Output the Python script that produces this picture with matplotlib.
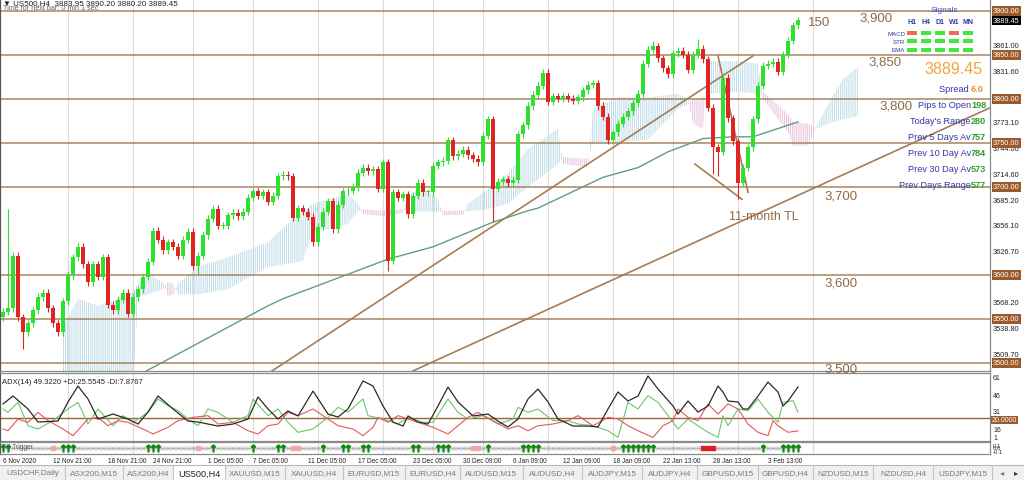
import matplotlib
matplotlib.use("Agg")
import matplotlib.pyplot as plt
from matplotlib.patches import Rectangle
from matplotlib.lines import Line2D
import numpy as np

plt.rcParams["font.family"] = ["Liberation Sans", "DejaVu Sans"]
plt.rcParams["hatch.linewidth"] = 0.7

W, H = 1024, 481

# ---- US500 H4 candles (closes, one per candle) ----
first_open = 3552
closes = [
    3558, 3562, 3622, 3552, 3535, 3545, 3560, 3575, 3580, 3562,
    3545, 3535, 3570, 3600, 3620, 3632, 3612, 3592, 3612, 3598,
    3620, 3566, 3560, 3572, 3580, 3556, 3575, 3584, 3598, 3615,
    3650, 3640, 3628, 3637, 3632, 3622, 3640, 3649, 3610, 3622,
    3645, 3664, 3675, 3656, 3656, 3668, 3671, 3667, 3672, 3688,
    3695, 3690, 3694, 3683, 3690, 3712, 3714, 3712, 3665, 3676,
    3672, 3666, 3637, 3655, 3672, 3684, 3652, 3680, 3695, 3696,
    3700, 3716, 3722, 3718, 3720, 3698, 3728, 3616, 3694, 3688,
    3692, 3669, 3690, 3705, 3694, 3694, 3724, 3728, 3730, 3753,
    3735, 3738, 3742, 3736, 3732, 3728, 3758, 3777, 3698, 3706,
    3709, 3704, 3708, 3760, 3770, 3792, 3805, 3815, 3830, 3797,
    3803, 3800, 3803, 3800, 3798, 3802, 3810, 3816, 3818, 3792,
    3780, 3753, 3762, 3772, 3780, 3786, 3795, 3806, 3840, 3856,
    3860, 3846, 3835, 3828, 3852, 3855, 3850, 3833, 3850, 3857,
    3845, 3790, 3745, 3740, 3824, 3778, 3752, 3705, 3722, 3745,
    3777, 3815, 3838, 3840, 3842, 3831, 3850, 3866, 3884, 3889.45,
]
wick_high = {1: 3675, 130: 3866, 139: 3868}
wick_low = {4: 3516, 39: 3600, 77: 3604, 98: 3660, 142: 3715, 143: 3712, 147: 3686}

# 200-period moving average
ma_idx = [27, 30, 53, 56, 77, 86, 98, 105, 107, 120, 127, 133, 140, 146, 150, 159]
ma_val = [3486, 3495, 3565, 3573, 3618, 3632, 3660, 3673, 3676, 3711, 3722, 3740, 3755, 3757, 3757, 3774]

# Ichimoku cloud
cloud_idx = [12, 15, 19, 23, 26, 27, 29, 32, 33, 34, 35, 39, 45, 53, 56, 60, 62, 65, 69, 71,
             72, 76, 80, 81, 84, 87, 88, 92, 93, 97, 101, 105, 111, 112, 117, 118, 123, 129, 135, 137,
             138, 140, 141, 147, 151, 152, 157, 158, 161, 163, 165, 168, 171]
span_a = [3542, 3573, 3565, 3573, 3581, 3590, 3601, 3592, 3576, 3578, 3590, 3610, 3620, 3637, 3654, 3672, 3681, 3686, 3692, 3681,
          3669, 3667, 3670, 3692, 3698, 3686, 3668, 3668, 3681, 3698, 3715, 3743, 3766, 3726, 3723, 3789, 3802, 3802, 3806, 3800,
          3772, 3766, 3843, 3843, 3840, 3800, 3762, 3747, 3747, 3772, 3794, 3823, 3836]
span_b = [3470, 3470, 3470, 3470, 3470, 3576, 3578, 3584, 3592, 3590, 3578, 3578, 3584, 3609, 3612, 3616, 3650, 3652, 3658, 3673,
          3675, 3673, 3675, 3672, 3672, 3672, 3673, 3673, 3672, 3675, 3681, 3700, 3726, 3734, 3732, 3751, 3751, 3754, 3789, 3794,
          3800, 3802, 3806, 3808, 3806, 3808, 3783, 3774, 3772, 3766, 3772, 3777, 3780]

# horizontal levels and their chart labels
levels = [3900, 3850, 3800, 3750, 3700, 3600, 3550, 3500]
level_text = ["3,900", "3,850", "3,800", "3,700", "3,600", "3,500"]
level_text_pos = [(174.6, 3893), (176.4, 3843), (178.6, 3793), (167.6, 3690), (167.6, 3591), (167.6, 3494)]

# trend lines (bar index, price)
trend_lines = [
    [(53.8, 3491), (150, 3849)],     # rising support
    [(82, 3491), (197.4, 3790)],     # 11-month TL
    [(143, 3849), (149, 3694)],      # wedge top
    [(138.4, 3726), (147.8, 3686)],  # wedge bottom
]

# ADX(14)
adx_idx = [0, 2, 5, 7, 11, 13, 15, 17, 19, 22, 25, 27, 29, 31, 34, 37, 39, 43, 46, 49,
           51, 53, 55, 57, 59, 62, 65, 67, 69, 72, 74, 76, 78, 80, 81, 83, 85, 87, 89, 91,
           94, 97, 99, 101, 103, 105, 107, 109, 111, 114, 117, 119, 121, 123, 125, 127, 129, 131, 134, 135,
           137, 139, 141, 143, 144, 145, 147, 148, 149, 151, 153, 155, 156, 157, 159]
adx_val = [33.3, 40.8, 28.6, 16.3, 17.2, 35.2, 50.2, 38.0, 19.1, 23.8, 19.1, 14.4, 25.7, 40.8, 28.6, 17.2, 16.3, 12.5, 14.4, 19.1,
           39.9, 28.6, 19.1, 26.7, 22.0, 45.5, 23.8, 21.0, 28.6, 55.0, 50.2, 31.4, 16.3, 12.5, 22.0, 16.3, 14.4, 31.4, 49.3, 35.2,
           22.0, 23.8, 17.2, 11.6, 19.1, 38.0, 47.4, 35.2, 19.1, 12.5, 12.5, 11.6, 28.6, 44.6, 36.1, 40.8, 59.7, 47.4, 31.4, 23.8,
           36.1, 25.7, 31.4, 50.2, 44.6, 36.1, 35.2, 28.6, 28.6, 40.8, 54.0, 44.6, 31.4, 36.1, 49.3]
pdi_idx = [0, 1, 3, 5, 7, 10, 13, 15, 17, 19, 22, 24, 26, 29, 31, 33, 35, 37, 39, 41,
           43, 46, 49, 50, 53, 55, 57, 59, 62, 65, 67, 69, 72, 73, 76, 79, 81, 84, 86, 89,
           91, 93, 96, 99, 102, 103, 105, 107, 110, 113, 115, 118, 121, 123, 125, 127, 129, 131, 133, 135,
           137, 139, 141, 143, 144, 145, 147, 149, 151, 153, 155, 156, 158, 159]
pdi_val = [28.6, 25.4, 34.8, 12.8, 9.7, 17.6, 28.6, 34.8, 14.4, 28.6, 12.8, 22.3, 16.0, 25.4, 38.0, 31.7, 27.0, 19.1, 12.8, 28.6,
           25.4, 16.0, 22.3, 38.0, 22.3, 28.6, 16.0, 6.6, 9.7, 20.7, 30.1, 25.4, 38.0, 22.3, 19.1, 14.4, 20.7, 16.0, 16.0, 38.0,
           25.4, 19.1, 22.3, 14.4, 19.1, 30.1, 25.4, 28.6, 17.6, 17.6, 14.4, 12.8, 8.1, 1.8, 34.8, 28.6, 41.1, 34.8, 22.3, 9.7,
           19.1, 12.8, 6.6, 1.8, 22.3, 12.8, 28.6, 27.0, 38.0, 25.4, 16.0, 34.8, 36.4, 25.6]
mdi_idx = [0, 1, 3, 5, 7, 9, 12, 14, 17, 19, 21, 23, 25, 28, 30, 33, 35, 38, 41, 43,
           46, 49, 51, 53, 55, 57, 59, 62, 65, 67, 70, 72, 74, 75, 77, 79, 82, 84, 86, 89,
           91, 93, 95, 98, 101, 103, 105, 107, 110, 113, 115, 118, 121, 123, 125, 127, 130, 132, 134, 135,
           137, 139, 141, 143, 145, 147, 149, 151, 153, 154, 155, 157, 159]
mdi_val = [9.7, 8.1, 19.1, 16.0, 25.4, 17.6, 9.7, 3.4, 19.1, 20.7, 12.8, 17.6, 16.0, 9.7, 5.0, 11.3, 17.6, 20.7, 22.3, 14.4,
           16.0, 8.1, 5.0, 12.8, 14.4, 25.4, 22.3, 28.6, 19.1, 12.8, 9.7, 3.4, 11.3, 20.7, 16.0, 22.3, 17.6, 14.4, 11.3, 5.0,
           12.8, 20.7, 25.4, 17.6, 9.7, 12.8, 8.1, 12.8, 14.4, 17.6, 22.3, 12.8, 20.7, 19.1, 12.8, 8.1, 1.8, 12.8, 17.6, 28.6,
           20.7, 17.6, 33.3, 23.8, 33.3, 28.6, 14.4, 6.6, 3.4, 17.6, 12.8, 6.6, 7.9]

# FX Trigger signals (candle index)
trig_up = [0, 1, 12, 13, 14, 29, 30, 31, 42, 50, 55, 56, 64, 68, 69, 72, 73, 82, 83, 87, 88, 89, 97,
           104, 105, 106, 107, 124, 125, 126, 127, 128, 129, 130, 152, 156, 157, 158, 159]
trig_weak = [10, 39, 58, 59, 94, 95, 122]
trig_down = [140, 141, 142]

date_idx = [0, 10, 21, 30, 41, 50, 61, 71, 82, 92, 102, 112, 122, 132, 142, 153]
date_labels = ["6 Nov 2020", "12 Nov 21:00", "18 Nov 21:00", "24 Nov 21:00", "1 Dec 05:00",
               "7 Dec 05:00", "11 Dec 05:00", "17 Dec 05:00", "23 Dec 05:00", "30 Dec 09:00",
               "6 Jan 09:00", "12 Jan 09:00", "18 Jan 09:00", "22 Jan 13:00", "28 Jan 13:00",
               "3 Feb 13:00"]
grid_idx = [13, 26, 38, 50, 63, 76, 86, 96, 109, 122, 134, 147, 162]

scale_plain = [3861.00, 3831.60, 3802.50, 3773.10, 3744.00, 3714.60, 3685.20,
               3656.10, 3626.70, 3568.20, 3538.80, 3509.70]
last_price = 3889.45

tabs = ["USDCHF,Daily", "ASX200,M15", "ASX200,H4", "US500,H4", "XAUUSD,M15", "XAUUSD,H4",
        "EURUSD,M15", "EURUSD,H4", "AUDUSD,M15", "AUDUSD,H4", "AUDJPY,M15", "AUDJPY,H4",
        "GBPUSD,M15", "GBPUSD,H4", "NZDUSD,M15", "NZDUSD,H4", "USDJPY,M15"]
tab_edges = [0, 65, 123, 173, 225, 285, 343, 405, 460, 523, 582, 642, 697, 758, 813, 873, 933, 992]

sig_cols = ["H1", "H4", "D1", "W1", "MN"]
sig_rows = ["MACD", "STR", "EMA"]
sig_state = [["dn", "up", "up", "dn", "up"],
             ["up", "up", "up", "up", "up"],
             ["up", "up", "up", "up", "up"]]
info_labels = ["Spread ", "Pips to Open", "Today's Range", "Prev 5 Days Av",
               "Prev 10 Day Av", "Prev 30 Day Av", "Prev Days Range"]
info_values = ["6.0", "198", "280", "757", "784", "573", "577"]

GREEN = "#2fe02f"
RED = "#e02424"
BROWN = "#a8855f"
LBL = "#8c6a48"
BOX = "#9a5a2c"
NAVY = "#3434a8"


def fx(x):
    return x / W


def fy(y):
    return 1 - y / H


fig = plt.figure(figsize=(W / 100, H / 100), dpi=100)
fig.patch.set_facecolor("white")

xlim = (-0.6, 197.4)
ax = fig.add_axes([0, fy(372), fx(990), 372 / H])
ax_adx = fig.add_axes([0, fy(442), fx(990), 68 / H])
ax_fx = fig.add_axes([0, fy(455), fx(990), 12 / H])

for a in (ax, ax_adx, ax_fx):
    a.set_xlim(*xlim)
    a.set_xticks([])
    a.set_yticks([])
    for s in a.spines.values():
        s.set_color("#8a8a8a")
        s.set_linewidth(0.9)
    a.spines["left"].set_color("#555555")
    a.spines["left"].set_linewidth(1.6)
    a.vlines(grid_idx, -1e4, 1e4, color="#dcdcdc", lw=0.8, zorder=0)
ax.spines["top"].set_visible(False)

# ---- main price panel ----
ax.set_ylim(3490.9, 3913.6)

ci = np.array(cloud_idx)
sa = np.array(span_a, float)
sb = np.array(span_b, float)
ax.fill_between(ci, sa, sb, where=sa >= sb, interpolate=True, facecolor="none",
                edgecolor="#bcdbe8", hatch="||||||||", lw=0, zorder=1)
ax.fill_between(ci, sa, sb, where=sa < sb, interpolate=True, facecolor="none",
                edgecolor="#e8bedb", hatch="||||||||", lw=0, zorder=1)

for lv in levels:
    ax.axhline(lv, color=BROWN, lw=1.1, zorder=2)

ax.plot(ma_idx, ma_val, color="#5f9c8c", lw=1.0, zorder=3)

for seg in trend_lines:
    (x0, y0), (x1, y1) = seg
    ax.plot([x0, x1], [y0, y1], color="#a67c55", lw=1.2, zorder=3)

idx = np.arange(len(closes))
c = np.array(closes, float)
o = np.concatenate([[first_open], c[:-1]])
hi = np.maximum(o, c) + 4
lo = np.minimum(o, c) - 4
for k, v in wick_high.items():
    hi[k] = v
for k, v in wick_low.items():
    lo[k] = v
cols = np.where(c >= o, GREEN, RED)
ax.vlines(idx, lo, hi, colors=cols, lw=0.8, zorder=4)
ax.bar(idx, np.maximum(np.abs(c - o), 1.0), width=0.62, bottom=np.minimum(o, c),
       color=cols, zorder=5)

for t, (px, py) in zip(level_text, level_text_pos):
    ax.text(px, py, t, color=LBL, fontsize=9.5, ha="center", va="center", zorder=6)
ax.text(163.2, 3888, "150", color=LBL, fontsize=9.5, ha="center", va="center")
ax.text(152.2, 3667, "11-month TL", color=LBL, fontsize=9, ha="center", va="center")

# price scale
ytr = ax.get_yaxis_transform()
for p in scale_plain:
    ax.text(1.003, p, f"{p:.2f}", transform=ytr, fontsize=5.3, color="#222222",
            ha="left", va="center", clip_on=False)
for lv in levels:
    ax.text(1.003, lv, f"{lv:.2f}", transform=ytr, fontsize=5.3, color="white",
            ha="left", va="center", clip_on=False, zorder=10,
            bbox=dict(boxstyle="square,pad=0.15", fc=BOX, ec="none"))
ax.text(1.003, last_price, f"{last_price:.2f}", transform=ytr, fontsize=5.3, color="white",
        ha="left", va="center", clip_on=False, zorder=11,
        bbox=dict(boxstyle="square,pad=0.15", fc="black", ec="none"))

# ---- ADX panel ----
ax_adx.set_ylim(-1.6, 62.5)
ax_adx.axhline(20, color="#a0603a", lw=1.0, zorder=1)
ax_adx.plot(pdi_idx, pdi_val, color="#6cc66c", lw=0.8, zorder=2)
ax_adx.plot(mdi_idx, mdi_val, color="#e05a5a", lw=0.8, zorder=2)
ax_adx.plot(adx_idx, adx_val, color="#2a2a2a", lw=0.9, zorder=3)
ax_adx.text(0.002, 0.93, "ADX(14) 49.3220 +DI:25.5545 -DI:7.8767", transform=ax_adx.transAxes,
            fontsize=5.5, color="#222222", ha="left", va="top")
for lab, yy in [("61", 379), ("46", 396), ("31", 412), ("16", 430), ("1", 438)]:
    fig.text(fx(993), fy(yy), lab, fontsize=5.0, color="#222222", ha="left", va="center")
fig.text(fx(992), fy(421), "20.0000", fontsize=5.0, color="white", ha="left", va="center",
         zorder=5, bbox=dict(boxstyle="square,pad=0.12", fc=BOX, ec="none"))

# ---- FX Trigger panel ----
ax_fx.set_ylim(-1, 1)
ax_fx.plot(idx, np.zeros(len(idx)), color="#b0b0b0", lw=0.6, marker="x", ms=2.6,
           mew=0.6, zorder=1)
ax_fx.plot(trig_up, np.zeros(len(trig_up)), ls="none", marker=r"$\uparrow$", ms=5,
           color="#138a13", zorder=3)
ax_fx.plot(trig_weak, np.zeros(len(trig_weak)), ls="none", marker="s", ms=3,
           color="#f2a6a6", zorder=3)
ax_fx.plot(trig_down, np.zeros(len(trig_down)), ls="none", marker="s", ms=3.5,
           color="#e01c1c", zorder=3)
ax_fx.text(0.002, 0.9, "FX Trigger", transform=ax_fx.transAxes, fontsize=4.8,
           color="#555555", ha="left", va="top")
for lab, yy in [("0.1", 446), ("0.0", 449), ("-0.1", 452)]:
    fig.text(fx(993), fy(yy), lab, fontsize=4.3, color="#333333", ha="left", va="center")

ax_fx.set_xticks(date_idx)
ax_fx.set_xticklabels(date_labels, fontsize=4.7, ha="left", color="#222222")
ax_fx.tick_params(axis="x", length=0, pad=2.5)

# ---- header text ----
fig.text(fx(3), fy(4), "\u25bc US500,H4  3883.95 3890.20 3880.20 3889.45", fontsize=5.8,
         color="#222222", ha="left", va="center")
fig.text(fx(3), fy(9), "Time for next bar: 0 min 1 sec", fontsize=5.2,
         color="#666666", ha="left", va="center")

# ---- signals box ----
fig.text(fx(944), fy(11), "Signals", fontsize=6, color="#4a4ac8", ha="center", va="center")
col_x = [912, 926, 940, 954, 968]
for cx, lab in zip(col_x, sig_cols):
    fig.text(fx(cx), fy(23), lab, fontsize=5, color=NAVY, ha="center", va="center",
             fontweight="bold")
row_y = [34, 42, 51]
for ry, lab, states in zip(row_y, sig_rows, sig_state):
    fig.text(fx(905), fy(ry), lab, fontsize=4.4, color=NAVY, ha="right", va="center")
    for cx, st in zip(col_x, states):
        fig.patches.append(Rectangle((fx(cx - 5), fy(ry + 2)), 10 / W, 4 / H,
                                     transform=fig.transFigure, fc="#ef6a50" if st == "dn" else "#3ee83e",
                                     ec="none"))
fig.text(fx(983), fy(70), f"{last_price:.2f}", fontsize=11.5, color="#f2a43a",
         ha="right", va="center")
info_y = [90, 106, 122, 138, 154, 170, 186]
for yy, lab, val in zip(info_y, info_labels, info_values):
    fig.text(fx(971), fy(yy), lab, fontsize=6.6, color=NAVY, ha="right", va="center")
    fig.text(fx(971), fy(yy), val, fontsize=6.6, ha="left", va="center",
             color="#e8922a" if lab.startswith("Spread") else "#2f9e2f", fontweight="bold")

# ---- tab bar ----
fig.patches.append(Rectangle((0, 0), 1, 15 / H, transform=fig.transFigure,
                             fc="#f0f0f0", ec="none", zorder=0))
fig.lines.append(Line2D([0, 1], [fy(466), fy(466)], transform=fig.transFigure,
                        color="#b8b8b8", lw=0.8))
for k, name in enumerate(tabs):
    l, r = tab_edges[k], tab_edges[k + 1]
    active = name == "US500,H4"
    if active:
        fig.patches.append(Rectangle((fx(l), 0), (r - l) / W, 15 / H,
                                     transform=fig.transFigure, fc="white", ec="none"))
    fig.text(fx((l + r) / 2), fy(474), name, fontsize=6.6 if active else 5.9,
             color="#222222" if active else "#7a7a7a", ha="center", va="center")
    fig.lines.append(Line2D([fx(r), fx(r)], [0, fy(466)], transform=fig.transFigure,
                            color="#c4c4c4", lw=0.8))
fig.text(fx(1002), fy(474), "\u25c2", fontsize=6, color="#777777", ha="center", va="center")
fig.text(fx(1016), fy(474), "\u25b8", fontsize=6, color="#333333", ha="center", va="center")

fig.savefig("out.png", dpi=100)
